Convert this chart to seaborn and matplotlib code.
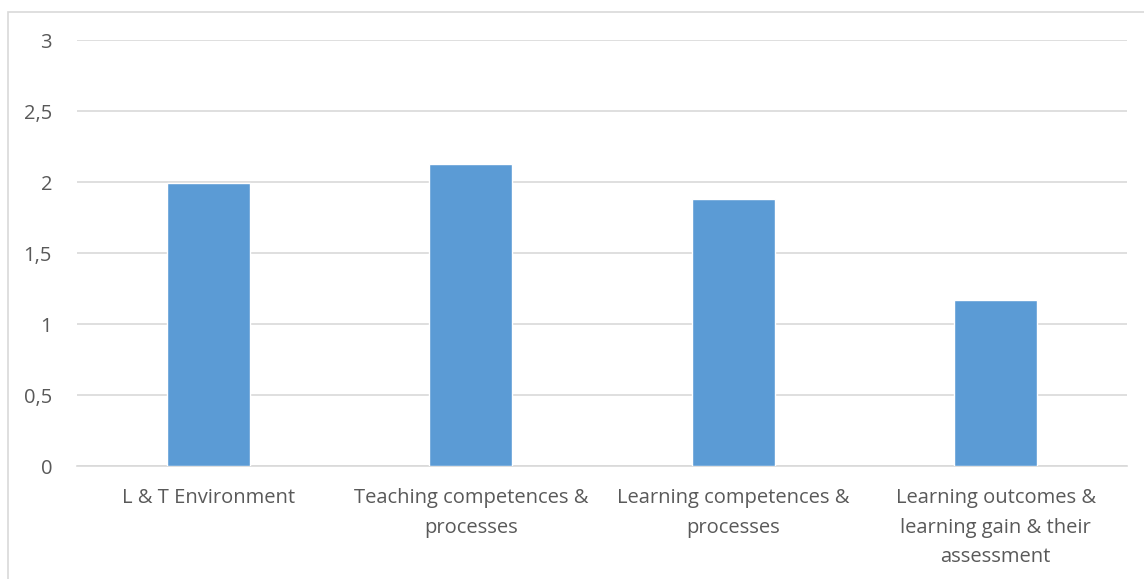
import matplotlib
matplotlib.use("Agg")
import matplotlib.pyplot as plt
import seaborn as sns
import pandas as pd
from matplotlib.ticker import FuncFormatter
from matplotlib.patches import Rectangle

categories = ["L & T Environment",
              "Teaching competences &\nprocesses",
              "Learning competences &\nprocesses",
              "Learning outcomes &\nlearning gain & their\nassessment"]
values = [1.99, 2.13, 1.88, 1.17]
yticks = [0, 0.5, 1, 1.5, 2, 2.5, 3]

sns.set_style("white")
plt.rcParams['font.family'] = ['Open Sans', 'DejaVu Sans']

df = pd.DataFrame({"cat": categories, "val": values})

fig = plt.figure(figsize=(11.44, 5.79), dpi=100)
ax = fig.add_axes([77/1144, 1 - 466/579, 1050/1144, 426/579])

sns.barplot(data=df, x="cat", y="val", color="#5B9BD5", width=0.315,
            saturation=1, ax=ax, zorder=3)

ax.set_ylim(0, 3)
ax.set_xlim(-0.5, 3.5)
ax.set_yticks(yticks)
ax.yaxis.set_major_formatter(FuncFormatter(lambda v, p: (f"{v:g}").replace(".", ",")))
ax.grid(axis="y", color="#D9D9D9", linewidth=1.2, zorder=0)
ax.set_axisbelow(True)
for s in ["top", "right", "left"]:
    ax.spines[s].set_visible(False)
ax.spines["bottom"].set_color("#D9D9D9")
ax.spines["bottom"].set_linewidth(1.2)
ax.set_xlabel("")
ax.set_ylabel("")
ax.tick_params(axis="y", length=0, pad=18, labelsize=14.5, labelcolor="#595959")
ax.tick_params(axis="x", length=0, pad=16, labelsize=14.5, labelcolor="#595959")
for lbl in ax.get_xticklabels():
    lbl.set_linespacing(1.62)

fig.patches.append(Rectangle((8/1144, -0.1), 1.2, 1 - 12/579 + 0.1,
                             transform=fig.transFigure, fill=False,
                             edgecolor="#D9D9D9", linewidth=1.2))

fig.savefig("out.png", dpi=100)
